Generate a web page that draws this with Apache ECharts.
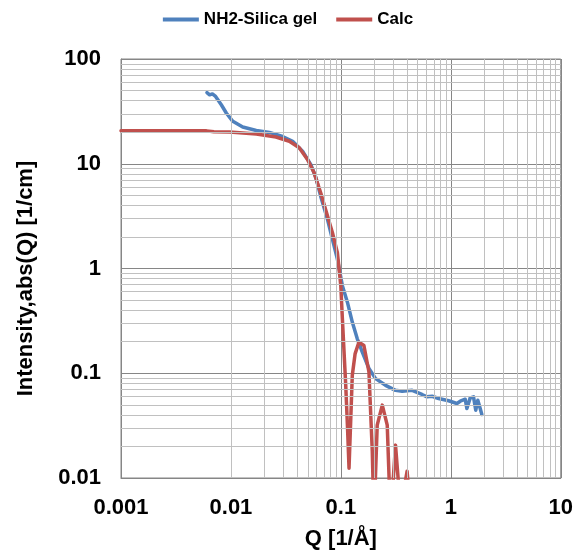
<!DOCTYPE html>
<html>
<head>
<meta charset="utf-8">
<script src="https://cdn.jsdelivr.net/npm/echarts@6/dist/echarts.min.js"></script>
<style>
html,body{margin:0;padding:0;background:#fff;}
#c{width:576px;height:555px;}
</style>
</head>
<body>
<div id="c"></div>
<script>
// ---- data ----
var seriesNames = ['NH2-Silica gel', 'Calc'];
var qSilica = [0.00605,0.0064,0.00678,0.00725,0.00817,0.00907,0.0104,0.0128,0.017,0.0224,0.0295,0.0364,0.0448,0.0533,0.0593,0.0662,0.0755,0.0838,0.0929,0.1032,0.1146,0.127,0.141,0.1566,0.18,0.207,0.255,0.314,0.361,0.445,0.547,0.607,0.675,0.775,0.955,1.136,1.219,1.352,1.40,1.50,1.609,1.686,1.76,1.85,1.915];
var iSilica = [47.8,45.5,46.4,43.9,36.6,30.5,25.4,22.4,20.8,19.9,18.2,16.4,13.2,9.8,7.35,4.7,2.95,1.90,1.23,0.686,0.477,0.308,0.213,0.159,0.111,0.0889,0.0767,0.0687,0.0672,0.0687,0.0627,0.0596,0.0603,0.0574,0.0546,0.0514,0.0541,0.0565,0.046,0.0582,0.0595,0.0444,0.0552,0.046,0.0404];
var qCalc = [0.001,0.002,0.004,0.006,0.007,0.0097,0.017,0.0257,0.034,0.0418,0.0497,0.0571,0.0662,0.0771,0.0838,0.0929,0.0998,0.1032,0.1107,0.115,0.1186,0.127,0.1346,0.146,0.162,0.180,0.193,0.200,0.214,0.238,0.264,0.283,0.314,0.349,0.400,0.430,0.45];
var iCalc = [20.7,20.7,20.7,20.6,20.2,20.1,19.2,18.0,16.4,14.2,11.0,8.19,5.1,2.95,2.20,1.42,0.686,0.330,0.0767,0.0297,0.0124,0.0955,0.153,0.198,0.184,0.1028,0.018,0.004,0.032,0.0496,0.032,0.004,0.0206,0.005,0.0116,0.005,0.003];
var xTickLabels = ['0.001','0.01','0.1','1','10'];
var yTickLabels = ['0.01','0.1','1','10','100'];
var xTitle = 'Q [1/\u00C5]';
var yTitle = 'Intensity,abs(Q) [1/cm]';

function pairs(xs, ys){ return xs.map(function(x,i){ return [x, ys[i]]; }); }

// minor grid values 2..9 per decade
var minorX = [], minorY = [];
for (var e = -3; e < 1; e++) for (var k = 2; k <= 9; k++) minorX.push(k * Math.pow(10, e));
for (var e2 = -2; e2 < 2; e2++) for (var k2 = 2; k2 <= 9; k2++) minorY.push(k2 * Math.pow(10, e2));
var minorLines = minorX.map(function(v){ return {xAxis: v}; }).concat(minorY.map(function(v){ return {yAxis: v}; }));

var FONT = 'Liberation Sans, Arial, sans-serif';
var MAJ = '#868686', MIN = '#c0c0c0';
var BLUE = '#4F81BD', RED = '#C0504D';

function lbl(arr, base){
  return function(v){ var i = Math.round(Math.log10(v)) - base; return arr[i] !== undefined ? arr[i] : ''; };
}

var chart = echarts.init(document.getElementById('c'), null, {renderer:'canvas'});
chart.setOption({
  animation: false,
  backgroundColor: '#fff',
  legend: {
    top: 6, left: 'center',
    itemWidth: 36, itemHeight: 4, itemGap: 19,
    data: [{name: seriesNames[0], icon: 'rect'}, {name: seriesNames[1], icon: 'rect'}],
    textStyle: {fontFamily: FONT, fontWeight: 'bold', fontSize: 17, color: '#000'}
  },
  grid: {left: 121, top: 59, right: 13, bottom: 75, show: true, borderColor: MAJ, borderWidth: 1},
  xAxis: {
    type: 'log', logBase: 10, min: 0.001, max: 10,
    name: xTitle, nameLocation: 'middle', nameGap: 50,
    nameTextStyle: {fontFamily: FONT, fontWeight: 'bold', fontSize: 22, color: '#000'},
    axisLine: {show: true, lineStyle: {color: MAJ}},
    axisTick: {show: false},
    axisLabel: {margin: 19, fontFamily: FONT, fontWeight: 'bold', fontSize: 22, color: '#000', formatter: lbl(xTickLabels, -3)},
    splitLine: {show: true, lineStyle: {color: MAJ, width: 1}}
  },
  yAxis: {
    type: 'log', logBase: 10, min: 0.01, max: 100,
    name: yTitle, nameLocation: 'middle', nameGap: 84, nameRotate: 90,
    nameTextStyle: {fontFamily: FONT, fontWeight: 'bold', fontSize: 22, color: '#000', padding: [0, 20, 0, 0]},
    axisLine: {show: true, lineStyle: {color: MAJ}},
    axisTick: {show: false},
    axisLabel: {margin: 20, fontFamily: FONT, fontWeight: 'bold', fontSize: 22, color: '#000', formatter: lbl(yTickLabels, -2)},
    splitLine: {show: true, lineStyle: {color: MAJ, width: 1}}
  },
  series: [
    {
      name: '_grid', type: 'line', data: [], z: 0, silent: true, symbol: 'none',
      markLine: {
        silent: true, symbol: 'none', animation: false,
        label: {show: false},
        lineStyle: {color: MIN, width: 1, type: 'solid'},
        emphasis: {disabled: true},
        data: minorLines
      }
    },
    {
      name: seriesNames[0], type: 'line', z: 3, symbol: 'none', showSymbol: false,
      data: pairs(qSilica, iSilica),
      lineStyle: {color: BLUE, width: 3.5, join: 'round', cap: 'round'},
      itemStyle: {color: BLUE}
    },
    {
      name: seriesNames[1], type: 'line', z: 4, symbol: 'none', showSymbol: false,
      data: pairs(qCalc, iCalc),
      lineStyle: {color: RED, width: 3.5, join: 'round', cap: 'round'},
      itemStyle: {color: RED}
    }
  ]
});
</script>
</body>
</html>
